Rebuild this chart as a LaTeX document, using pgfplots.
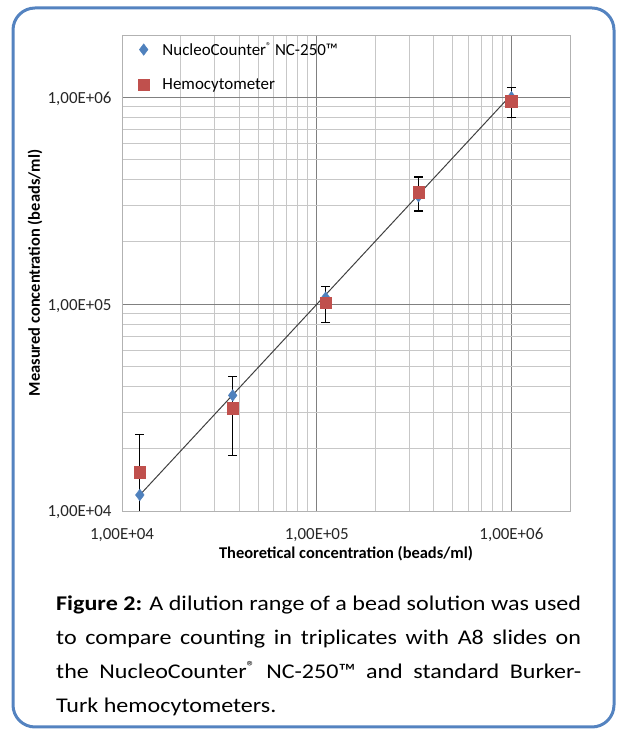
\documentclass[border=0pt]{standalone}
\usepackage{fontspec}
\setmainfont{Carlito}
\newfontfamily\capfont{Carlito}[FakeStretch=1.15]
\usepackage{pgfplots}
\pgfplotsset{compat=1.18}
\definecolor{ncblue}{RGB}{79,129,189}
\definecolor{hemred}{RGB}{192,80,77}
\definecolor{boxblue}{RGB}{84,131,192}
\newcommand{\regmark}{\raisebox{0.35em}{\fontsize{10}{10}\selectfont ®}}
\begin{document}
\begin{tikzpicture}
\useasboundingbox (0,0) rectangle (619bp,729bp);
\draw[boxblue, line width=3bp, rounded corners=22bp] (13bp,2bp) rectangle (614bp,721bp);
\begin{axis}[
  at={(122bp,218bp)}, anchor=south west,
  scale only axis, width=448bp, height=476bp,
  xmode=log, ymode=log,
  xmin=1e4, xmax=2e6, ymin=1e4, ymax=2e6,
  xtick={1e4,1e5,1e6}, xticklabels={{1,00E+04},{1,00E+05},{1,00E+06}},
  ytick={1e4,1e5,1e6}, yticklabels={{1,00E+04},{1,00E+05},{1,00E+06}},
  minor xtick={2e4,3e4,4e4,5e4,6e4,7e4,8e4,9e4,2e5,3e5,4e5,5e5,6e5,7e5,8e5,9e5},
  minor ytick={2e4,3e4,4e4,5e4,6e4,7e4,8e4,9e4,2e5,3e5,4e5,5e5,6e5,7e5,8e5,9e5},
  grid=both,
  major grid style={draw=black!50, line width=0.9bp},
  minor grid style={draw=black!22, line width=0.9bp},
  axis line style={draw=black!30, line width=0.9bp},
  major tick length=0pt, minor tick length=0pt,
  tick label style={font=\fontsize{17}{17}\selectfont, text=black!85},
  xticklabel style={yshift=-14bp},
  yticklabel style={xshift=-7bp, yshift=-1.5bp},
  xlabel={\bfseries Theoretical concentration (beads/ml)},
  ylabel={\bfseries Measured concentration (beads/ml)},
  label style={font=\fontsize{16.5}{16.5}\selectfont},
  xlabel style={at={(axis description cs:0.5,-0.09)}, anchor=center},
  ylabel style={at={(axis description cs:-0.194,0.5)}, anchor=center},
  legend style={at={(axis description cs:0.035,0.989)}, anchor=north west, draw=none, fill=none,
    font=\fontsize{17}{17}\selectfont, row sep=18bp, inner sep=0pt},
  legend cell align=left,
  clip=true,
]
\addplot[only marks, mark=diamond*, mark size=5.8bp, color=ncblue, mark options={fill=ncblue, draw=ncblue}]
  coordinates {(12346,11950) (37037,36200) (111111,107500) (333333,332000) (1000000,1000000)};
\addlegendentry{\hspace{11bp}NucleoCounter\regmark\ NC-250™}
\addplot[only marks, mark=square*, mark size=5.8bp, color=hemred, mark options={fill=hemred, draw=hemred},
  error bars/.cd, y dir=both, y explicit,
  error bar style={black, line width=1.2bp},
  error mark options={black, rotate=90, mark size=4.5bp, line width=1.2bp}]
  coordinates {
  (12346,15450) +- (0,7900)
  (37037,31500) +- (0,13000)
  (111111,101700) +- (0,20500)
  (333333,347000) +- (0,65000)
  (1000000,956000) +- (0,160000)};
\addlegendentry{\hspace{11bp}Hemocytometer}
\addplot[black!75, line width=1bp, forget plot] coordinates {(12346,11950) (1000000,1030000)};
\end{axis}
\node[anchor=base west, inner sep=0pt, text width=525bp, align=justify,
  font=\capfont\fontsize{21}{34}\selectfont] at (56bp,118bp)
  {\textbf{Figure 2:} A dilution range of a bead solution was used\linebreak
   to compare counting in triplicates with A8 slides on\linebreak
   the NucleoCounter\textsuperscript{®} NC-250™ and standard Burker-\linebreak
   Turk hemocytometers.};
\end{tikzpicture}
\end{document}
